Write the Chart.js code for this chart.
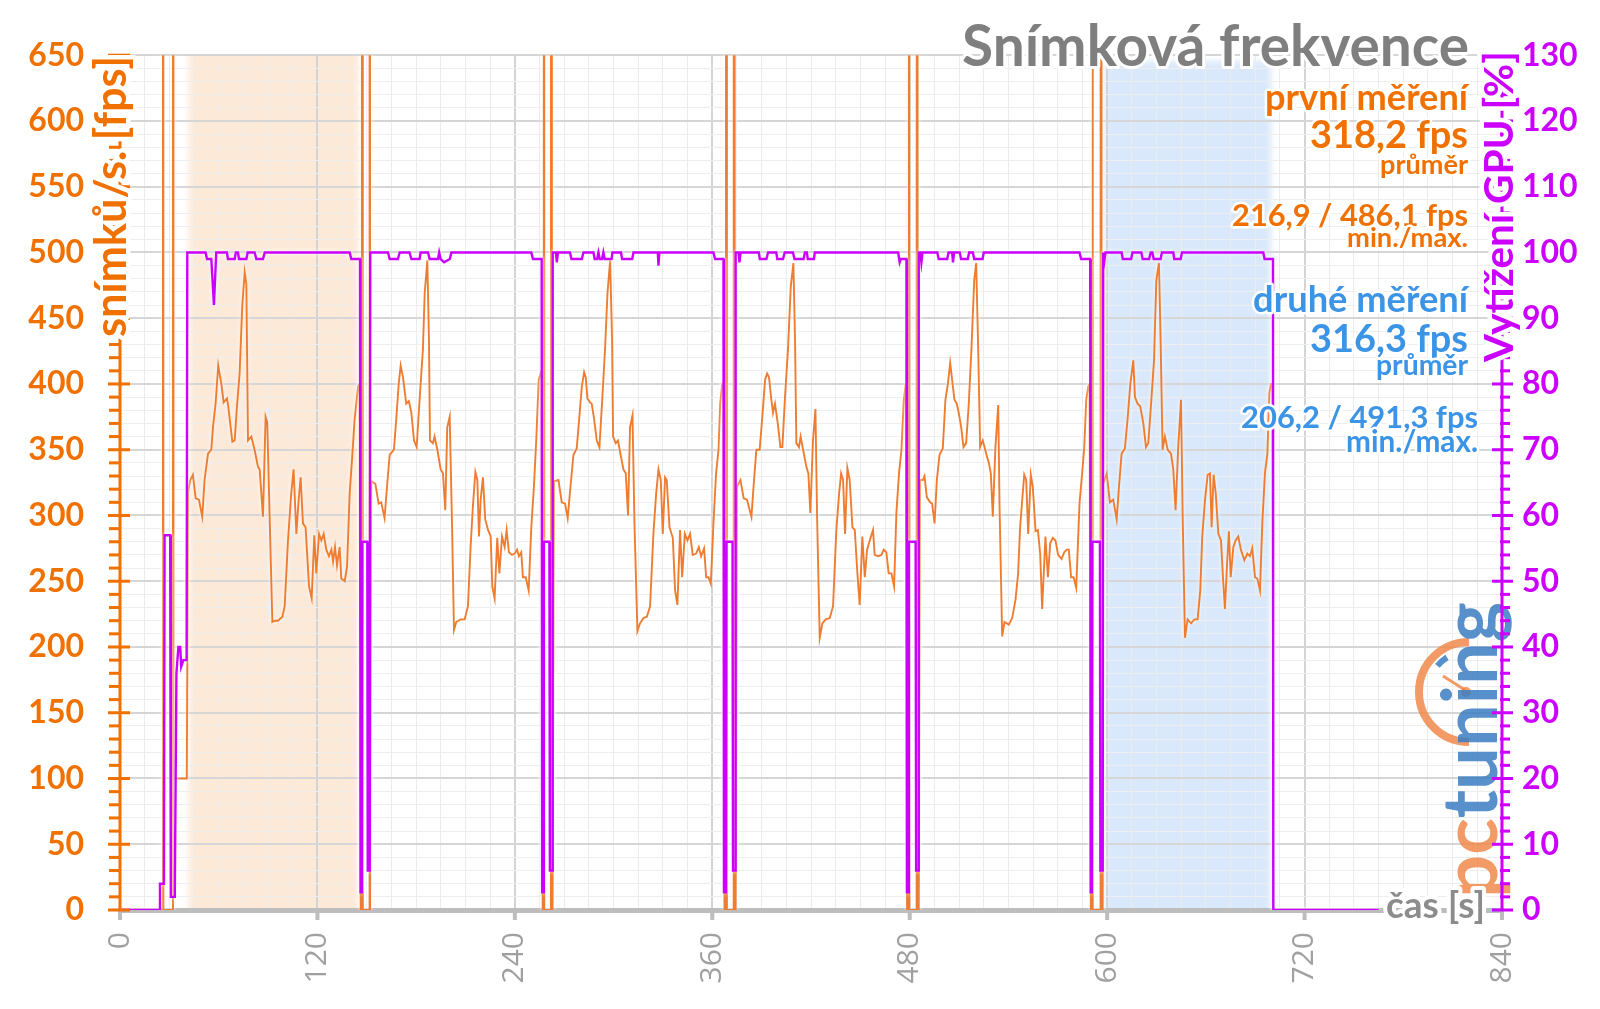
<!DOCTYPE html>
<html><head><meta charset="utf-8">
<script src="https://cdn.jsdelivr.net/npm/chart.js@4.4.1/dist/chart.umd.min.js"></script>
<style>html,body{margin:0;padding:0;background:#fff;overflow:hidden}canvas{display:block}</style>
</head><body>
<canvas id="c" width="1600" height="1009" style="width:1600px;height:1009px"></canvas>
<script>
// ---------- DATA (time [s], value) ----------
const fpsIntro = [[0,0],[25.8,0],[26.1,5000],[26.4,0],[31.9,0],[32.2,5000],[32.5,100],[40.6,100],[41.4,318]];
const fpsRun1 = [[42.7,327],[44.3,331],[46.0,313],[48.0,312],[50.0,299],[51.4,327],[53.5,347],[55.5,350],[56.5,367],[58.1,385],[59.7,414],[61.6,400],[63.0,386],[65.0,389],[65.8,383],[68.3,356],[69.7,357],[71.1,383],[72.7,408],[74.3,459],[75.8,485],[76.8,476],[77.8,357],[79.8,360],[81.8,350],[83.9,337],[84.9,335],[86.9,299],[88.5,375],[89.5,371],[91.0,297],[92.6,219],[94.0,220],[96.0,220],[98.7,223],[100.1,231],[102.1,281],[104.1,317],[105.5,335],[107.2,286],[108.6,312],[109.8,329],[111.2,294],[112.8,291],[114.9,246],[116.5,237],[118.1,285],[119.3,256],[121.0,286],[122.4,281],[123.8,286],[125.4,274],[127.0,269],[128.5,274],[129.5,265],[130.7,276],[131.9,262],[133.5,276],[134.5,252],[136.6,250],[138.0,261],[139.6,317],[141.0,342],[142.6,373],[144.7,398],[145.6,400]];
const fpsGap1 = [[146.3,0],[147.0,0],[147.3,5000],[147.6,0],[151.4,0],[151.7,5000],[152.0,0],[152.3,0]];
const fpsRun2 = [[152.7,326],[155.2,324],[157.2,309],[158.8,310],[160.8,298],[162.3,322],[163.9,346],[166.5,350],[167.9,373],[169.4,400],[170.6,414],[172.0,405],[174.0,385],[175.6,387],[177.1,378],[178.7,357],[180.3,352],[182.1,388],[184.1,426],[185.2,469],[186.8,494],[187.8,433],[188.4,357],[190.2,355],[191.2,360],[192.9,350],[194.9,335],[196.3,332],[197.7,304],[198.9,367],[200.4,375],[201.8,294],[203.0,213],[204.4,219],[207.0,221],[209.5,221],[211.5,231],[213.1,276],[214.5,307],[216.0,333],[217.2,327],[218.2,284],[219.2,312],[220.6,329],[222.0,297],[223.7,289],[225.3,284],[226.3,246],[227.7,237],[229.3,283],[230.6,256],[232.2,284],[233.8,276],[235.0,289],[236.4,272],[238.3,270],[239.9,271],[241.3,274],[242.5,269],[243.9,272],[244.9,253],[246.6,253],[248.4,243],[250.0,291],[251.6,322],[253.0,357],[254.5,403],[255.7,408],[256.3,405]];
const fpsGap2 = [[256.9,0],[257.3,0],[257.6,5000],[257.9,0],[261.9,0],[262.2,5000],[262.5,0],[262.9,0]];
const fpsRun3 = [[263.8,326],[266.5,327],[268.5,310],[270.5,309],[272.1,298],[273.6,319],[275.6,346],[277.6,351],[279.2,375],[280.7,398],[282.1,409],[283.1,405],[284.1,389],[285.7,386],[286.7,385],[288.2,373],[289.8,357],[291.4,352],[293.2,390],[294.8,426],[296.3,469],[297.9,494],[299.1,433],[299.7,360],[301.3,355],[302.7,357],[304.0,348],[306.0,335],[307.4,332],[308.8,300],[310.0,367],[311.5,376],[312.7,294],[314.5,212],[316.1,218],[318.2,222],[320.2,223],[322.2,231],[324.2,286],[325.9,317],[327.3,335],[328.7,327],[329.9,286],[331.3,329],[332.3,327],[334.0,291],[336.0,283],[337.4,243],[338.8,232],[340.4,289],[341.7,253],[343.3,286],[344.9,281],[346.5,286],[348.1,270],[350.2,271],[351.8,276],[353.2,269],[355.0,275],[356.3,253],[357.7,253],[359.1,248],[360.7,294],[362.3,332],[363.8,350],[364.8,385],[366.0,400],[366.8,402]];
const fpsGap3 = [[367.4,0],[368.3,0],[368.6,5000],[368.9,0],[373.0,0],[373.3,5000],[373.6,0],[374.2,0]];
const fpsRun4 = [[375.0,322],[377.1,327],[379.1,313],[381.1,312],[383.8,299],[385.2,324],[386.8,350],[388.8,350],[390.4,375],[392.1,403],[393.3,408],[394.5,405],[395.9,388],[396.9,378],[398.1,385],[399.8,370],[401.4,352],[402.6,352],[404.2,390],[406.0,426],[407.7,474],[409.3,492],[410.3,433],[411.1,355],[412.7,352],[413.7,360],[415.2,350],[417.2,337],[418.4,332],[419.6,302],[421.2,357],[422.7,381],[423.7,299],[425.3,207],[426.9,218],[429.0,221],[431.4,222],[433.4,231],[435.4,289],[437.1,317],[438.3,332],[439.5,327],[440.7,286],[442.1,336],[443.5,327],[445.2,291],[446.6,289],[448.2,256],[449.6,232],[451.2,284],[452.7,253],[454.1,274],[455.7,281],[457.7,289],[458.7,270],[460.8,269],[462.8,270],[464.2,274],[465.8,272],[467.2,256],[468.9,256],[470.5,246],[471.9,302],[473.5,332],[475.0,350],[476.4,388],[477.6,400]];
const fpsGap4 = [[478.4,0],[479.2,0],[479.5,5000],[479.8,0],[484.2,0],[484.5,5000],[484.8,0],[485.5,0]];
const fpsRun5 = [[486.3,327],[488.0,327],[489.0,330],[490.4,314],[492.4,310],[493.6,309],[495.1,294],[496.5,327],[498.1,346],[500.1,351],[501.7,388],[503.2,400],[504.6,416],[505.8,403],[507.2,388],[508.6,385],[509.8,378],[511.3,367],[512.7,352],[514.3,355],[515.9,385],[517.5,426],[519.2,479],[520.4,492],[521.6,428],[522.8,352],[524.4,357],[526.5,347],[528.1,340],[529.3,332],[530.5,299],[532.1,352],[533.8,384],[534.6,307],[536.2,208],[537.6,219],[540.2,217],[542.3,222],[544.3,236],[545.9,256],[547.1,291],[548.4,312],[549.6,331],[550.8,327],[552.0,286],[553.6,331],[554.8,322],[556.5,288],[557.9,289],[559.3,271],[560.5,229],[562.5,284],[564.0,253],[565.4,279],[567.0,283],[568.6,281],[570.2,270],[572.3,267],[573.9,272],[575.5,274],[576.7,274],[578.1,253],[579.6,253],[581.2,245],[583.2,309],[584.8,332],[586.1,352],[587.3,388],[588.5,398],[589.3,400]];
const fpsGap5 = [[590.1,0],[590.8,0],[591.1,5000],[591.4,0],[596.0,0],[596.3,5000],[596.6,0],[597.3,0]];
const fpsRun6 = [[597.6,324],[599.7,332],[601.7,310],[603.7,312],[605.8,297],[607.2,322],[608.8,347],[610.8,351],[612.4,373],[614.1,400],[615.9,418],[616.9,390],[618.5,385],[620.1,383],[622.0,370],[623.6,352],[625.0,355],[626.6,383],[628.5,418],[629.9,479],[631.5,492],[632.5,433],[633.7,350],[635.1,360],[636.8,350],[638.8,347],[640.2,335],[641.6,304],[643.2,352],[644.9,388],[645.9,299],[647.3,207],[648.9,221],[651.0,218],[653.0,221],[655.0,221],[656.6,243],[657.8,284],[659.5,312],[661.1,331],[662.5,332],[663.5,291],[664.7,331],[666.0,317],[667.6,286],[669.2,281],[670.4,253],[671.6,229],[672.8,261],[674.0,288],[675.1,253],[676.7,276],[678.1,281],[679.7,284],[681.3,274],[683.4,266],[685.2,271],[686.8,269],[688.2,275],[689.9,253],[691.3,252],[692.9,243],[694.3,294],[695.9,332],[697.4,347],[698.6,393],[699.6,400],[700.4,400]];
const fpsOutro = [[701.0,0],[765,0]];

const gpuIntro = [[0,0],[23.9,0],[24.3,4],[26.7,4],[27.1,57],[30.5,57],[30.9,2],[33.3,2],[34.3,36],[35.5,40],[36.6,40],[37.2,37],[38.5,38],[40.5,38],[40.9,100]];
const gpuRun1 = [[52.0,100],[52.9,99],[55.5,99],[57.1,92],[58.5,100],[65.0,100],[65.6,99],[69.7,99],[70.4,100],[71.7,100],[72.3,99],[76.8,99],[77.6,100],[81.8,100],[82.9,99],[86.9,99],[88.0,100],[139.6,100],[140.6,99],[145.9,99]];
const gpuGap1 = [[146.2,2.7],[147.0,2.7],[147.3,56],[150.3,56],[150.6,6],[151.8,6],[152.1,100]];
const gpuRun2 = [[162.9,100],[163.9,99],[168.9,99],[170.0,100],[176.0,100],[177.1,99],[182.1,99],[182.7,100],[187.2,100],[188.2,99],[193.3,99],[194.0,100],[194.9,99],[197.0,98.5],[200.5,99],[201.4,100],[250.0,100],[251.0,99],[256.3,99]];
const gpuGap2 = [[256.6,2.7],[257.3,2.7],[257.6,56],[261.0,56],[261.3,6],[262.7,6],[263.0,100]];
const gpuRun3 = [[265.0,100],[265.5,98.5],[266.2,100],[273.5,100],[274.4,99],[280.7,99],[281.7,100],[287.8,100],[288.5,99],[290.0,99],[290.8,100],[291.6,99],[293.0,99],[293.8,100],[294.6,99],[298.8,99],[299.3,100],[304.5,100],[305.2,99],[311.3,99],[312.1,100],[326.9,100],[327.3,98],[327.8,100],[360.7,100],[361.7,99],[366.8,99]];
const gpuGap3 = [[367.1,2.7],[368.3,2.7],[368.6,56],[372.3,56],[372.6,6],[373.9,6],[374.2,100]];
const gpuRun4 = [[376.0,100],[376.5,98.5],[377.2,100],[388.3,100],[388.9,99],[392.9,99],[393.9,100],[398.9,100],[399.5,99],[403.0,99],[404.0,100],[409.0,100],[410.0,99],[415.5,99],[416.3,100],[417.5,100],[418.0,99],[421.8,99],[422.3,100],[473.0,100],[473.9,98.5],[474.6,99],[478.0,99]];
const gpuGap4 = [[478.3,2.7],[479.2,2.7],[479.5,56],[483.6,56],[483.9,6],[485.2,6],[485.5,100]];
const gpuRun5 = [[486.5,100],[487.1,98.5],[487.8,100],[496.8,100],[497.6,99],[502.8,99],[503.6,100],[505.8,100],[506.3,98.5],[507.0,100],[510.4,100],[511.2,99],[515.3,99],[516.1,100],[518.4,100],[519.2,99],[524.3,99],[525.0,100],[583.2,100],[584.2,99],[589.7,99]];
const gpuGap5 = [[590.0,2.7],[590.7,2.7],[591.0,56],[595.6,56],[595.9,6],[597.3,6],[597.6,100]];
const gpuRun6 = [[598.2,98.5],[599.0,100],[608.8,100],[609.5,99],[614.6,99],[615.4,100],[620.8,100],[621.6,99],[625.5,99],[626.5,100],[627.5,100],[628.3,99],[632.5,99],[633.3,100],[640.2,100],[640.8,99],[644.7,99],[645.5,100],[694.9,100],[695.7,99],[700.8,99]];
const gpuOutro = [[701.0,0],[765,0]];

const highlightFirst = [41.7, 145.2];   // "první měření" run
const highlightSecond = [598.6, 699.6]; // "druhé měření" run

const xTicks = [0,120,240,360,480,600,720,840];
const yLeftLabels = [0,50,100,150,200,250,300,350,400,450,500,550,600,650];
const yRightLabels = [0,10,20,30,40,50,60,70,80,90,100,110,120,130];

const title = 'Snímková frekvence';
const legendFirst = ['první měření','318,2 fps','průměr','216,9 / 486,1 fps','min./max.'];
const legendSecond = ['druhé měření','316,3 fps','průměr','206,2 / 491,3 fps','min./max.'];
const axisLeftTitle = 'snímků/s. [fps]';
const axisRightTitle = 'Vytížení GPU [%]';
const axisXTitle = 'čas [s]';

// ---------- STYLE ----------
const ORANGE = '#f07000', ORANGE_LINE = '#ee7d31', PURPLE = '#cc00ff', BLUE = '#3b94e6', GRAY_T = '#7f7f7f';

const toPts = arrs => [].concat(...arrs).map(([x,y]) => ({x, y}));
const fpsPoints = toPts([fpsIntro,fpsRun1,fpsGap1,fpsRun2,fpsGap2,fpsRun3,fpsGap3,fpsRun4,fpsGap4,fpsRun5,fpsGap5,fpsRun6,fpsOutro]);
const gpuPoints = toPts([gpuIntro,gpuRun1,gpuGap1,gpuRun2,gpuGap2,gpuRun3,gpuGap3,gpuRun4,gpuGap4,gpuRun5,gpuGap5,gpuRun6,gpuOutro]);

function txt(ctx, s, x, y, o) {
  ctx.save();
  const fam = o.family || 'Lato', wt = o.weight || 'bold';
  let size = o.size || 30;
  if (o.width) { ctx.font = `${wt} 100px ${fam}`; size = 100 * o.width / ctx.measureText(s).width; }
  ctx.font = `${wt} ${size}px ${fam}`;
  ctx.translate(x, y); if (o.rot) ctx.rotate(o.rot);
  ctx.textAlign = o.align || 'right'; ctx.textBaseline = 'alphabetic';
  if (o.halo) { ctx.strokeStyle = '#fff'; ctx.lineWidth = o.halo; ctx.lineJoin = 'round'; ctx.strokeText(s, 0, 0); }
  ctx.fillStyle = o.color; ctx.globalAlpha = o.alpha || 1; ctx.fillText(s, 0, 0);
  ctx.restore();
}

const decor = {
  id: 'decor',
  beforeDraw(chart) {
    const {ctx, chartArea: a, scales: {x}} = chart;
    ctx.save();
    ctx.fillStyle = '#fff'; ctx.fillRect(0, 0, chart.width, chart.height);
    ctx.beginPath(); ctx.rect(a.left, a.top, a.right - a.left, a.bottom - a.top); ctx.clip();
    ctx.filter = 'blur(3px)';
    ctx.fillStyle = '#fde9d8';
    const x1 = x.getPixelForValue(highlightFirst[0]), x2 = x.getPixelForValue(highlightFirst[1]);
    ctx.fillRect(x1, a.top - 10, x2 - x1, a.bottom - a.top + 20);
    ctx.fillStyle = '#d9e8fa';
    const x3 = x.getPixelForValue(highlightSecond[0]), x4 = x.getPixelForValue(highlightSecond[1]);
    ctx.fillRect(x3, a.top + 6, x4 - x3, a.bottom - a.top);
    ctx.restore();
  },
  beforeDatasetsDraw(chart) {
    const {ctx, chartArea: a, scales: {x}} = chart;
    ctx.save();
    ctx.fillStyle = '#bdbdbd';
    ctx.fillRect(a.left - 2, a.bottom - 2, a.right - a.left + 4, 5);
    xTicks.forEach(v => { const px = x.getPixelForValue(v); ctx.fillRect(px - 2, a.bottom, 4, 10); });
    ctx.restore();
    ctx.save();
    ctx.shadowColor = 'rgba(255,255,255,0.95)'; ctx.shadowBlur = 4;
  },
  afterDatasetsDraw(chart) {
    const {ctx, chartArea: a, scales: {y, y2}} = chart;
    ctx.restore();
    // logo (behind axis)
    ctx.save();
    ctx.globalAlpha = 0.85;
    const cx = 1469, cy = 692, r = 50;
    ctx.strokeStyle = '#f08a4b'; ctx.lineWidth = 8; ctx.lineCap = 'butt';
    ctx.beginPath(); ctx.arc(cx, cy, r, Math.PI * 0.5, Math.PI * 1.5); ctx.stroke();
    ctx.strokeStyle = '#3a7cc2'; ctx.lineWidth = 6;
    ctx.beginPath(); ctx.arc(cx, cy, r - 9, Math.PI * 1.22, Math.PI * 1.32); ctx.stroke();
    ctx.strokeStyle = '#f08a4b'; ctx.lineWidth = 3;
    ctx.beginPath(); ctx.moveTo(cx - 4, cy - 2); ctx.lineTo(cx - 26, cy - 16); ctx.stroke();
    ctx.fillStyle = '#f08a4b'; ctx.beginPath(); ctx.arc(cx - 3, cy, 5, 0, Math.PI * 2); ctx.fill();
    ctx.restore();
    ctx.save();
    ctx.font = 'bold 100px Lato';
    const wPc = ctx.measureText('pc').width, wAll = ctx.measureText('pctuning').width;
    const k = 296 / wAll, fs = 100 * k;
    ctx.translate(1497, 898); ctx.rotate(-Math.PI / 2);
    ctx.font = `bold ${fs}px Lato`; ctx.textAlign = 'left'; ctx.globalAlpha = 0.85;
    ctx.fillStyle = '#f08a4b'; ctx.fillText('pc', 0, 0);
    ctx.fillStyle = '#3a7cc2'; ctx.fillText('tuning', wPc * k, 0);
    ctx.restore();

    // left axis
    ctx.save();
    ctx.fillStyle = ORANGE;
    ctx.fillRect(a.left - 1.5, a.top, 3, a.bottom - a.top);
    for (let v = 0; v <= 650; v += 10) {
      const py = y.getPixelForValue(v);
      if (v % 50 === 0) ctx.fillRect(a.left - 12, py - 1.5, 22, 3);
      else ctx.fillRect(a.left - 11, py - 1.5, 11, 3);
    }
    // right axis
    ctx.fillStyle = PURPLE;
    ctx.fillRect(a.right - 1.5, a.top, 3, a.bottom - a.top);
    for (let v = 0; v <= 130; v += 2) {
      const py = y2.getPixelForValue(v);
      if (v % 10 === 0) ctx.fillRect(a.right - 10, py - 1.5, 21, 3);
      else ctx.fillRect(a.right - 2, py - 1.5, 10, 3);
    }
    ctx.restore();
  },
  afterDraw(chart) {
    const {ctx} = chart;
    const R = -Math.PI / 2;
    txt(ctx, axisLeftTitle, 126, 337, {rot: R, align: 'left', width: 281, color: ORANGE, halo: 9});
    txt(ctx, axisRightTitle, 1513, 362, {rot: R, align: 'left', width: 311, color: PURPLE, halo: 9});
    txt(ctx, axisXTitle, 1386, 918, {align: 'left', width: 99, color: '#8c8c8c', halo: 8});
    txt(ctx, title, 1469, 66, {width: 507, color: GRAY_T, halo: 6});
    const H = 5;
    txt(ctx, legendFirst[0], 1468, 110, {width: 203, color: ORANGE, halo: H});
    txt(ctx, legendFirst[1], 1468, 148, {width: 158, color: ORANGE, halo: H});
    txt(ctx, legendFirst[2], 1468, 174, {width: 88, color: ORANGE, halo: H});
    txt(ctx, legendFirst[3], 1468, 226, {width: 236, color: ORANGE, halo: H});
    txt(ctx, legendFirst[4], 1468, 247, {width: 121, color: ORANGE, halo: H});
    txt(ctx, legendSecond[0], 1468, 312, {width: 215, color: BLUE, halo: H});
    txt(ctx, legendSecond[1], 1468, 352, {width: 158, color: BLUE, halo: H});
    txt(ctx, legendSecond[2], 1468, 375, {width: 92, color: BLUE, halo: H});
    txt(ctx, legendSecond[3], 1478, 428, {width: 237, color: BLUE, halo: H});
    txt(ctx, legendSecond[4], 1478, 452, {width: 132, color: BLUE, halo: H});
  }
};

function build() {
  new Chart(document.getElementById('c'), {
    type: 'line',
    data: { datasets: [
      { label: 'GPU', data: gpuPoints, yAxisID: 'y2', borderColor: PURPLE, borderWidth: 2.4, pointRadius: 0, tension: 0, order: 1 },
      { label: 'fps', data: fpsPoints, yAxisID: 'y', borderColor: ORANGE_LINE, borderWidth: 1.9, pointRadius: 0, tension: 0, order: 2 }
    ]},
    options: {
      responsive: false, animation: false, devicePixelRatio: 1,
      layout: { padding: { top: 54, left: 0, right: 0, bottom: 0 } },
      plugins: { legend: { display: false }, tooltip: { enabled: false } },
      scales: {
        x: {
          type: 'linear', min: 0, max: 840,
          afterFit(s) { s.height = 99; },
          border: { display: false },
          grid: { drawTicks: false,
            color: c => (c.tick && c.tick.value % 120 === 0) ? '#d4d4d4' : '#ececec',
            lineWidth: c => (c.tick && c.tick.value % 120 === 0) ? 2 : 1 },
          ticks: { stepSize: 15, autoSkip: false, minRotation: 90, maxRotation: 90, padding: 22,
            color: '#a0a0a0', font: { family: 'Open Sans', size: 30 },
            callback: v => xTicks.includes(v) ? String(v) : '' }
        },
        y: {
          position: 'left', min: 0, max: 650,
          afterFit(s) { s.width = 120; },
          border: { display: false },
          grid: { drawTicks: false,
            color: c => (c.tick && c.tick.value % 50 === 0) ? '#d6d6d6' : '#eeeeee',
            lineWidth: c => (c.tick && c.tick.value % 50 === 0) ? 2 : 1 },
          ticks: { stepSize: 10, autoSkip: false, padding: 36, color: ORANGE, font: { family: 'Lato', weight: 'bold', size: 32 },
            callback: v => yLeftLabels.includes(v) ? String(v) : '' }
        },
        y2: {
          position: 'right', min: 0, max: 130,
          afterFit(s) { s.width = 98; },
          border: { display: false },
          grid: { drawOnChartArea: false, drawTicks: false },
          ticks: { stepSize: 10, autoSkip: false, padding: 20, color: PURPLE, font: { family: 'Lato', weight: 'bold', size: 32 },
            callback: v => yRightLabels.includes(v) ? String(v) : '' }
        }
      }
    },
    plugins: [decor]
  });
}
Promise.all([document.fonts.load('bold 32px Lato'), document.fonts.load('30px "Open Sans"')]).then(build, build);
</script>
</body></html>
